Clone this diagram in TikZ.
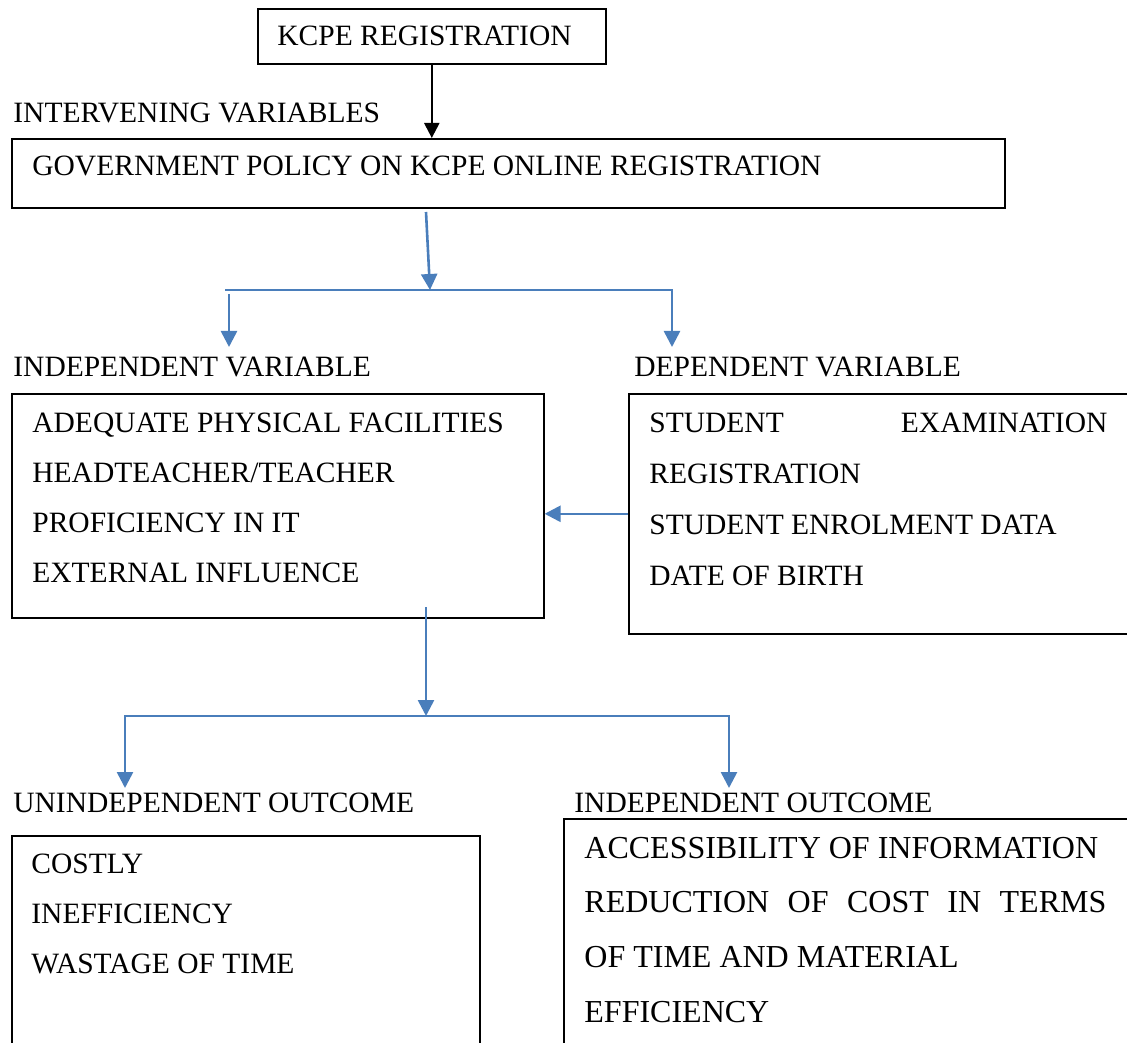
\documentclass[tikz,border=0pt]{standalone}
\usepackage{fontspec}
\setmainfont{Liberation Serif}
\usetikzlibrary{arrows.meta}

\definecolor{arrowblue}{RGB}{74,126,187}

\newcommand{\indepfactors}{
        ADEQUATE PHYSICAL FACILITIES, HEADTEACHER/TEACHER, PROFICIENCY IN IT, EXTERNAL INFLUENCE
    }
\newcommand{\depfactors}{
        {\makebox[229pt][s]{STUDENT EXAMINATION}}, REGISTRATION, STUDENT ENROLMENT DATA, DATE OF BIRTH
    }
\newcommand{\negoutcomes}{
        COSTLY, INEFFICIENCY, WASTAGE OF TIME
    }
\newcommand{\posoutcomes}{
        ACCESSIBILITY OF INFORMATION, {\makebox[261pt][s]{REDUCTION OF COST IN TERMS}}, OF TIME AND MATERIAL, EFFICIENCY
    }

\tikzset{
    box/.style={draw, line width=0.8pt, rectangle, inner sep=0pt, anchor=north west},
    txt/.style={inner sep=0pt, anchor=base west, font=\fontsize{14.75}{17}\selectfont},
    bigtxt/.style={txt, font=\fontsize{16}{19}\selectfont},
    blueline/.style={draw=arrowblue, line width=1.3pt},
    bluearrow/.style={blueline, -{Triangle[length=8pt,width=8pt]}},
    blackarrow/.style={draw=black, line width=1.1pt, -{Triangle[length=7.5pt,width=7.5pt]}}
}

\begin{document}
\begin{tikzpicture}[x=0.5pt, y=-0.5pt]
        \useasboundingbox (0,0) rectangle (1127,1042);
        \clip (0,0) rectangle (1127,1042);
        % Draw boxes
        \node[box, minimum width=174pt, minimum height=27.5pt] (kcpe) at (257,8) {};
        \node[box, minimum width=496.5pt, minimum height=34.5pt] (gov) at (11,138) {};
        \node[box, minimum width=266pt, minimum height=112pt] (indep) at (11,393) {};
        \node[box, minimum width=256pt, minimum height=120pt] (dep) at (628,393) {};
        \node[box, minimum width=234pt, minimum height=115pt] (neg) at (11,835) {};
        \node[box, minimum width=290pt, minimum height=125pt] (pos) at (563,818) {};
        % Box texts and headings
        \node[txt] (kcpetext) at (277,46) {KCPE REGISTRATION};
        \node[txt] (intervening) at (13,123) {INTERVENING VARIABLES};
        \node[txt] (govtext) at (32,176) {GOVERNMENT POLICY ON KCPE ONLINE REGISTRATION};
        \node[txt] (indephead) at (13,377) {INDEPENDENT VARIABLE};
        \node[txt] (dephead) at (634,377) {DEPENDENT VARIABLE};
        \node[txt] (neghead) at (13,812) {UNINDEPENDENT OUTCOME};
        \node[txt] (poshead) at (574,812) {INDEPENDENT OUTCOME};
        \foreach [count=\i] \x in \indepfactors{
            \node[txt] (ind\i) at (32,{432+50.3*(\i-1)}) {\x};
        }
        \foreach [count=\i] \x in \depfactors{
            \node[txt] (dep\i) at (649,{432+51*(\i-1)}) {\x};
        }
        \foreach [count=\i] \x in \negoutcomes{
            \node[txt] (neg\i) at (31,{873+50*(\i-1)}) {\x};
        }
        \foreach [count=\i] \x in \posoutcomes{
            \node[bigtxt] (pos\i) at (584,{858+54.7*(\i-1)}) {\x};
        }
        % Junction points
        \coordinate (govout) at (426,212);
        \coordinate (split) at (430,290);
        \coordinate (splitl) at (225,290);
        \coordinate (indepin) at (229,347);
        \coordinate (depin) at (672,347);
        \coordinate (indepout) at (426,607);
        \coordinate (merge) at (426,716);
        \coordinate (negin) at (125,788);
        \coordinate (posin) at (729,788);
        % Draw connects (Edges)
        \draw[blackarrow] (kcpe.south) -- (kcpe.south |- gov.north);
        \draw[bluearrow] (govout) -- (split);
        \draw[bluearrow] (splitl) -- (splitl -| depin) -- (depin);
        \draw[bluearrow] ([yshift=-2pt]splitl -| indepin) -- (indepin);
        \draw[bluearrow] (dep.west) -- (indep.east |- dep.west);
        \draw[bluearrow] (indepout) -- (merge);
        \draw[blueline, {Triangle[length=8pt,width=8pt]}-{Triangle[length=8pt,width=8pt]}] (negin) |- (merge) -| (posin);
    \end{tikzpicture}
\end{document}
